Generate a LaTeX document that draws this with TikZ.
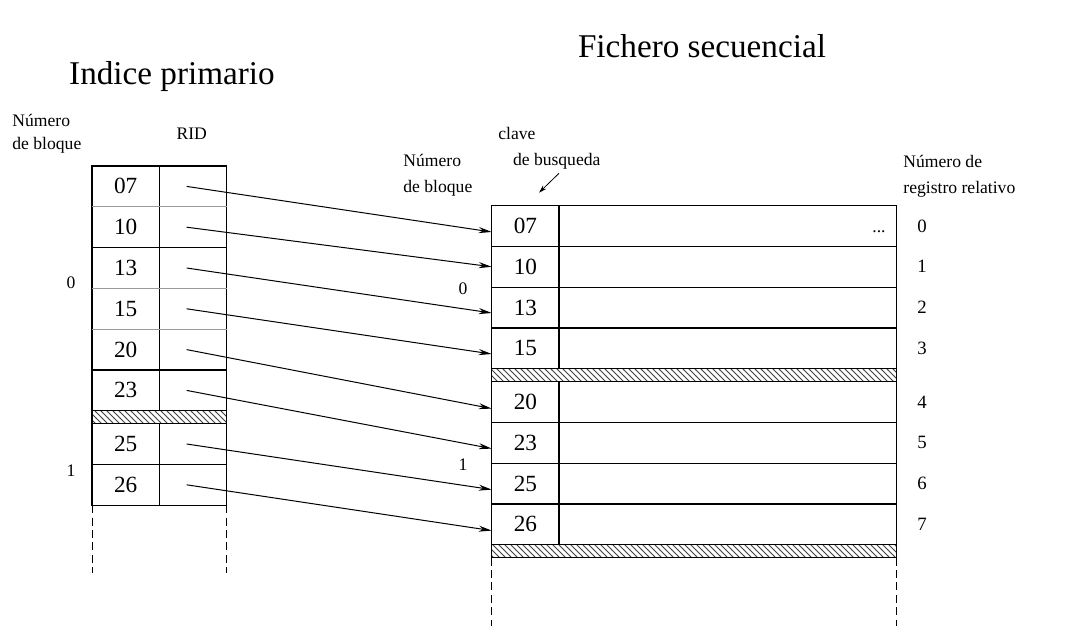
\documentclass[tikz,border=0pt]{standalone}
\usepackage{fontspec}
\setmainfont{Liberation Serif}
\usetikzlibrary{arrows.meta,positioning,patterns}

\begin{document}
\begin{tikzpicture}[x=0.5pt, y=-0.5pt,
    cell/.style={draw, line width=0.6pt, inner sep=0pt, outer sep=0pt, minimum height=20.4pt, font=\fontsize{11.6}{14}\selectfont},
    keycell/.style={cell, minimum width=33.65pt},
    ridcell/.style={cell, minimum width=33.7pt},
    datacell/.style={cell, minimum width=168.85pt},
    hatchbar/.style={draw, line width=0.6pt, pattern=north west lines, pattern color=black!75},
    sepline/.style={line width=0.6pt, black!40},
    dashtail/.style={line width=0.5pt, dash pattern=on 4pt off 2.2pt},
    lbl/.style={inner sep=0pt, align=left, font=\fontsize{8.8}{13}\selectfont},
    rnum/.style={inner sep=0pt, font=\fontsize{9.4}{11}\selectfont},
    headtext/.style={inner sep=0pt, font=\fontsize{16.6}{20}\selectfont},
    ptr/.style={-{Stealth[length=6.5pt, width=3pt]}, line width=0.5pt}]
  \useasboundingbox (0,0) rectangle (1066,640);

  % titles and labels
  \node[headtext, anchor=base] (idxtitle) at (172,85) {Indice primario};
  \node[headtext, anchor=base] (seqtitle) at (702,57.3) {Fichero secuencial};
  \node[lbl, anchor=base west, font=\fontsize{8.8}{11.7}\selectfont] (lblk) at (12,150) {Número\\de bloque};
  \node[lbl, anchor=base] (rid) at (191.7,139.3) {RID};
  \node[lbl, anchor=base] (lb0) at (71,288.3) {0};
  \node[lbl, anchor=base] (lb1) at (71,477) {1};
  \node[lbl, anchor=base west] (rblk) at (403,192.7) {Número\\de bloque};
  \node[lbl, anchor=base west] (keylbl) at (498,166) {clave\\\hspace*{7.3pt}de busqueda};
  \node[lbl, anchor=base] (rb0) at (463,295) {0};
  \node[lbl, anchor=base] (rb1) at (463,471) {1};
  \node[lbl, anchor=base west] (rellbl) at (903,193.3) {Número de\\registro relativo};

  % primary index
  \node[keycell] (lk07) at (125.65,186.4) {07};
  \node[ridcell, right=0pt of lk07] (lr07) {};
  \node[keycell, below=0pt of lk07] (lk10) {10};
  \node[ridcell, right=0pt of lk10] (lr10) {};
  \node[keycell, below=0pt of lk10] (lk13) {13};
  \node[ridcell, right=0pt of lk13] (lr13) {};
  \node[keycell, below=0pt of lk13] (lk15) {15};
  \node[ridcell, right=0pt of lk15] (lr15) {};
  \node[keycell, below=0pt of lk15] (lk20) {20};
  \node[ridcell, right=0pt of lk20] (lr20) {};
  \node[keycell, below=0pt of lk20] (lk23) {23};
  \node[ridcell, right=0pt of lk23] (lr23) {};
  \node[keycell, below=6.4pt of lk23] (lk25) {25};
  \node[ridcell, right=0pt of lk25] (lr25) {};
  \node[keycell, below=0pt of lk25] (lk26) {26};
  \node[ridcell, right=0pt of lk26] (lr26) {};
  \foreach \k in {07,13,15}
    \draw[sepline] (lk\k.south west) -- (lr\k.south east);
  \draw[hatchbar] (lk23.south west) rectangle (lr25.north east);
  \draw[dashtail] (lk26.south west) -- ++(0,68);
  \draw[dashtail] (lr26.south east) -- ++(0,68);

  % sequential file
  \node[keycell] (rk07) at (525.35,226) {07};
  \node[datacell, right=0pt of rk07] (rd07) {};
  \node[keycell, below=0pt of rk07] (rk10) {10};
  \node[datacell, right=0pt of rk10] (rd10) {};
  \node[keycell, below=0pt of rk10] (rk13) {13};
  \node[datacell, right=0pt of rk13] (rd13) {};
  \node[keycell, below=0pt of rk13] (rk15) {15};
  \node[datacell, right=0pt of rk15] (rd15) {};
  \node[keycell, below=6.4pt of rk15] (rk20) {20};
  \node[datacell, right=0pt of rk20] (rd20) {};
  \node[keycell, below=0pt of rk20] (rk23) {23};
  \node[datacell, right=0pt of rk23] (rd23) {};
  \node[keycell, below=0pt of rk23] (rk25) {25};
  \node[datacell, right=0pt of rk25] (rd25) {};
  \node[keycell, below=0pt of rk25] (rk26) {26};
  \node[datacell, right=0pt of rk26] (rd26) {};
  \draw[hatchbar] (rk15.south west) rectangle (rd20.north east);
  \draw[hatchbar] (rk26.south west) rectangle ([yshift=-6.4pt]rd26.south east);
  \draw[dashtail] ([yshift=-6.4pt]rk26.south west) -- ++(0,68);
  \draw[dashtail] ([yshift=-6.4pt]rd26.south east) -- ++(0,68);
  \node[lbl, anchor=base] (dots) at (879,232.5) {...};
  \foreach \k/\n in {07/0,10/1,13/2,15/3,20/4,23/5,25/6,26/7}
    \node[rnum, right=10.15pt of rd\k] (rn\n) {\n};

  % pointers
  \foreach \k/\d in {07/3,10/0,13/2.7,15/2.8,20/3.3,23/2.9,25/3,26/3.1}
    \draw[ptr] ([xshift=-3.2pt]lr\k.center) -- ([yshift=-\d pt]rk\k.west);
  \coordinate (keytail) at (559,173.3);
  \coordinate (keyhead) at (539,192.7);
  \draw[-{Stealth[length=4pt, width=2.4pt]}, line width=0.4pt] (keytail) -- (keyhead);
\end{tikzpicture}
\end{document}
